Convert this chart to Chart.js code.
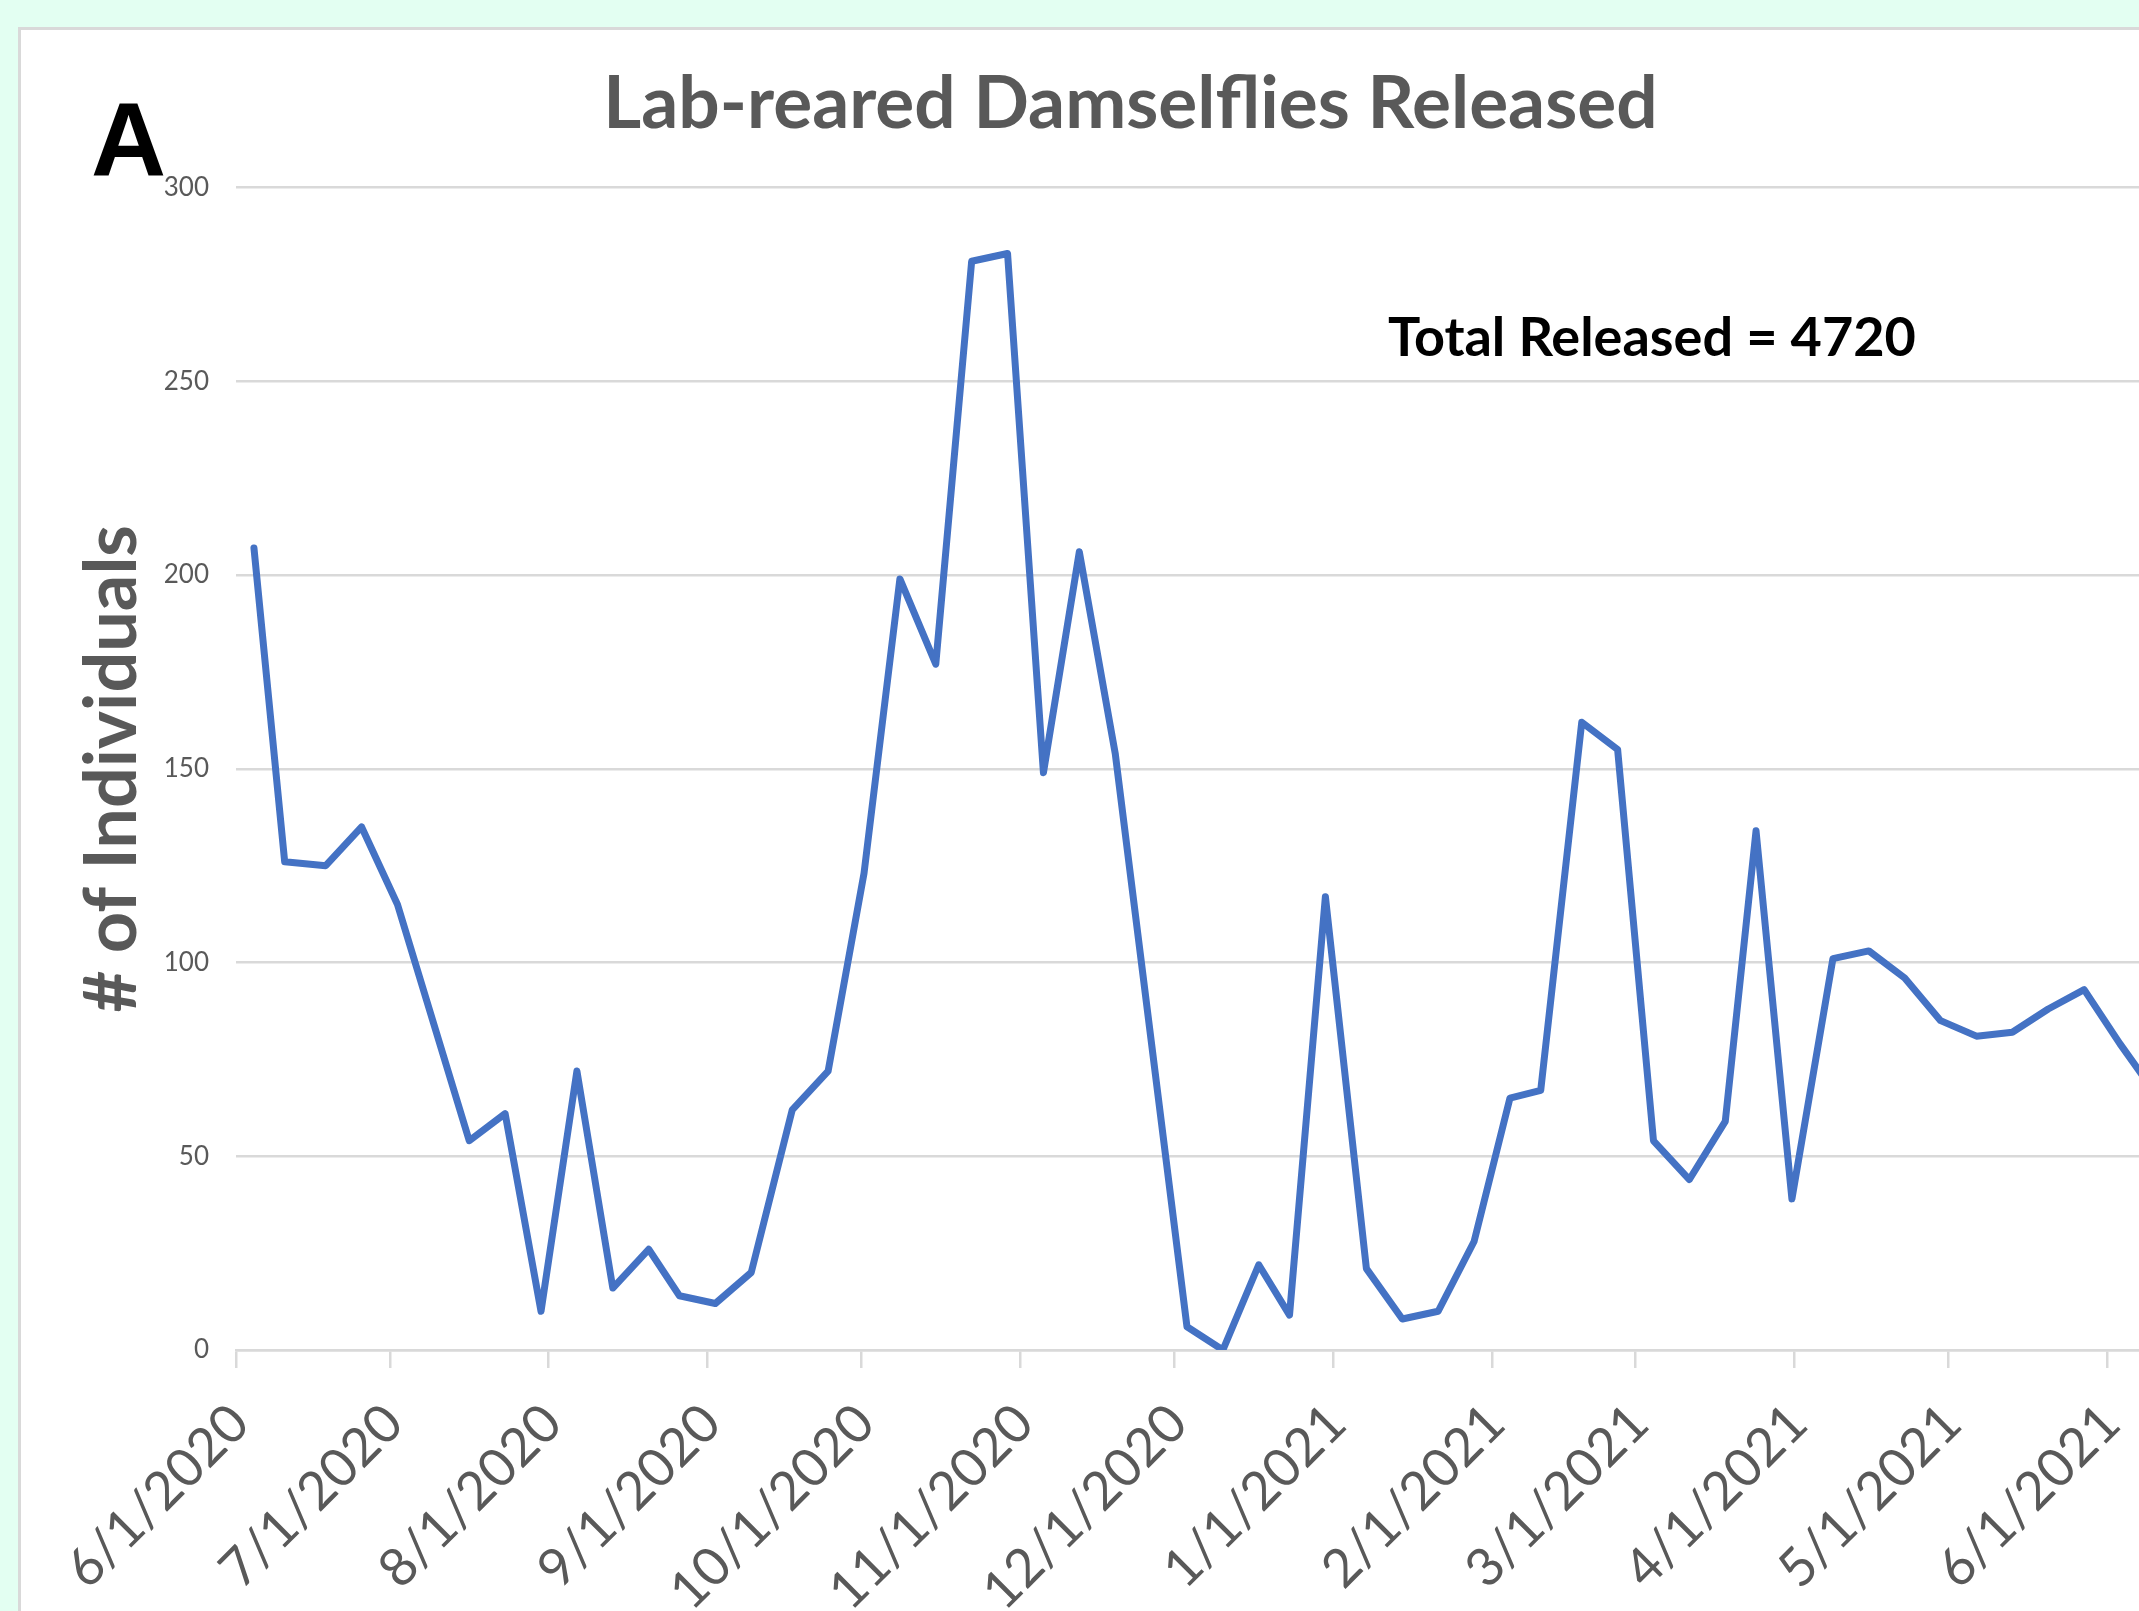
<!DOCTYPE html>
<html>
<head>
<meta charset="utf-8">
<script src="https://cdn.jsdelivr.net/npm/chart.js@4.4.1/dist/chart.umd.min.js"></script>
<style>
  html, body { margin: 0; padding: 0; }
  body { width: 2139px; height: 1611px; overflow: hidden; background: #e3fff2; position: relative; }
  #panel { position: absolute; left: 18px; top: 27px; width: 2200px; height: 1700px; background: #fff; border: 3px solid #d9d9d9; }
  #chartpanel { position: absolute; left: 0; top: 0; }
</style>
</head>
<body>
<div id="panel"></div>
<canvas id="chartpanel" width="2261" height="1611"></canvas>
<script>
// weekly release dates (m/d/yyyy) and number of damselflies released
const releaseDates = [
  '6/4/2020', '6/10/2020', '6/18/2020', '6/25/2020', '7/2/2020', '7/16/2020',
  '7/23/2020', '7/30/2020', '8/6/2020', '8/13/2020', '8/20/2020', '8/26/2020',
  '9/2/2020', '9/9/2020', '9/17/2020', '9/24/2020', '10/1/2020', '10/8/2020',
  '10/15/2020', '10/22/2020', '10/29/2020', '11/5/2020', '11/12/2020', '11/19/2020',
  '12/3/2020', '12/10/2020', '12/17/2020', '12/23/2020', '12/30/2020', '1/7/2021',
  '1/14/2021', '1/21/2021', '1/28/2021', '2/4/2021', '2/10/2021', '2/18/2021',
  '2/25/2021', '3/4/2021', '3/11/2021', '3/18/2021', '3/24/2021', '3/31/2021',
  '4/8/2021', '4/15/2021', '4/22/2021', '4/29/2021', '5/6/2021', '5/13/2021',
  '5/20/2021', '5/27/2021', '6/3/2021', '6/10/2021',
];
const releaseCounts = [
  207, 126, 125, 135, 115, 54,
  61, 10, 72, 16, 26, 14,
  12, 20, 62, 72, 123, 199,
  177, 281, 283, 149, 206, 154,
  6, 0, 22, 9, 117, 21,
  8, 10, 28, 65, 67, 162,
  155, 54, 44, 59, 134, 39,
  101, 103, 96, 85, 81, 82,
  88, 93, 79, 66,
];
const tickLabels = [
  '6/1/2020', '7/1/2020', '8/1/2020', '9/1/2020', '10/1/2020', '11/1/2020',
  '12/1/2020', '1/1/2021', '2/1/2021', '3/1/2021', '4/1/2021', '5/1/2021', '6/1/2021',
];
const yTicks = [0, 50, 100, 150, 200, 250, 300];
const totalText = 'Total Released = 4720';

const origin = Date.UTC(2020, 5, 1);
function dayIndex(s) {
  const [m, d, y] = s.split('/').map(Number);
  return Math.round((Date.UTC(y, m - 1, d) - origin) / 86400000);
}
const tickDays = tickLabels.map(dayIndex);
// points sit in the middle of their day slot, like an Excel date axis
const points = releaseDates.map((d, i) => ({ x: dayIndex(d) + 0.5, y: releaseCounts[i] }));

Chart.defaults.font.family = 'Lato';

const notes = {
  id: 'notes',
  afterDraw(chart) {
    const ctx = chart.ctx;
    ctx.save();
    ctx.fillStyle = '#000';
    ctx.textBaseline = 'alphabetic';
    ctx.textAlign = 'left';
    ctx.font = 'bold 104px "Liberation Sans"';
    ctx.fillText('A', 91, 175);
    ctx.font = 'bold 54px Lato';
    ctx.fillText(totalText, 1388, 356);
    ctx.restore();
  }
};

const config = {
  type: 'line',
  data: {
    datasets: [{
      label: 'Released',
      data: points,
      borderColor: '#4472c4',
      borderWidth: 7,
      pointRadius: 0,
      tension: 0,
      borderJoinStyle: 'round',
      borderCapStyle: 'round',
    }]
  },
  options: {
    responsive: false,
    animation: false,
    layout: { padding: 0 },
    plugins: {
      legend: { display: false },
      tooltip: { enabled: false },
      title: {
        display: true,
        text: 'Lab-reared Damselflies Released',
        color: '#595959',
        font: { size: 73, weight: 'bold' },
        padding: { top: 61, bottom: 39 },
      },
    },
    scales: {
      x: {
        type: 'linear',
        min: 0,
        max: 395,
        afterBuildTicks: (axis) => { axis.ticks = tickDays.map(v => ({ value: v })); },
        afterFit: (axis) => { axis.height = 261; },
        grid: { drawOnChartArea: false, drawTicks: true, tickLength: 18, color: '#d9d9d9', lineWidth: 2.5 },
        border: { display: true, color: '#d9d9d9', width: 2.5 },
        ticks: {
          autoSkip: false,
          minRotation: 45,
          maxRotation: 45,
          padding: 24,
          labelOffset: 4,
          color: '#595959',
          font: { size: 53 },
          callback: (v, i) => tickLabels[i],
        },
      },
      y: {
        min: 0,
        max: 300,
        afterBuildTicks: (axis) => { axis.ticks = yTicks.map(v => ({ value: v })); },
        afterFit: (axis) => { axis.width = 236; },
        grid: { color: '#d9d9d9', lineWidth: 2.5, drawTicks: false },
        border: { display: false },
        ticks: { padding: 27, color: '#595959', font: { size: 26 } },
        title: {
          display: true,
          text: '# of Individuals',
          color: '#595959',
          font: { size: 72, weight: 'bold' },
          padding: { top: 70, bottom: 0 },
        },
      },
    },
  },
  plugins: [notes],
};

const chartpanel = new Chart(document.getElementById('chartpanel'), config);
</script>
</body>
</html>
